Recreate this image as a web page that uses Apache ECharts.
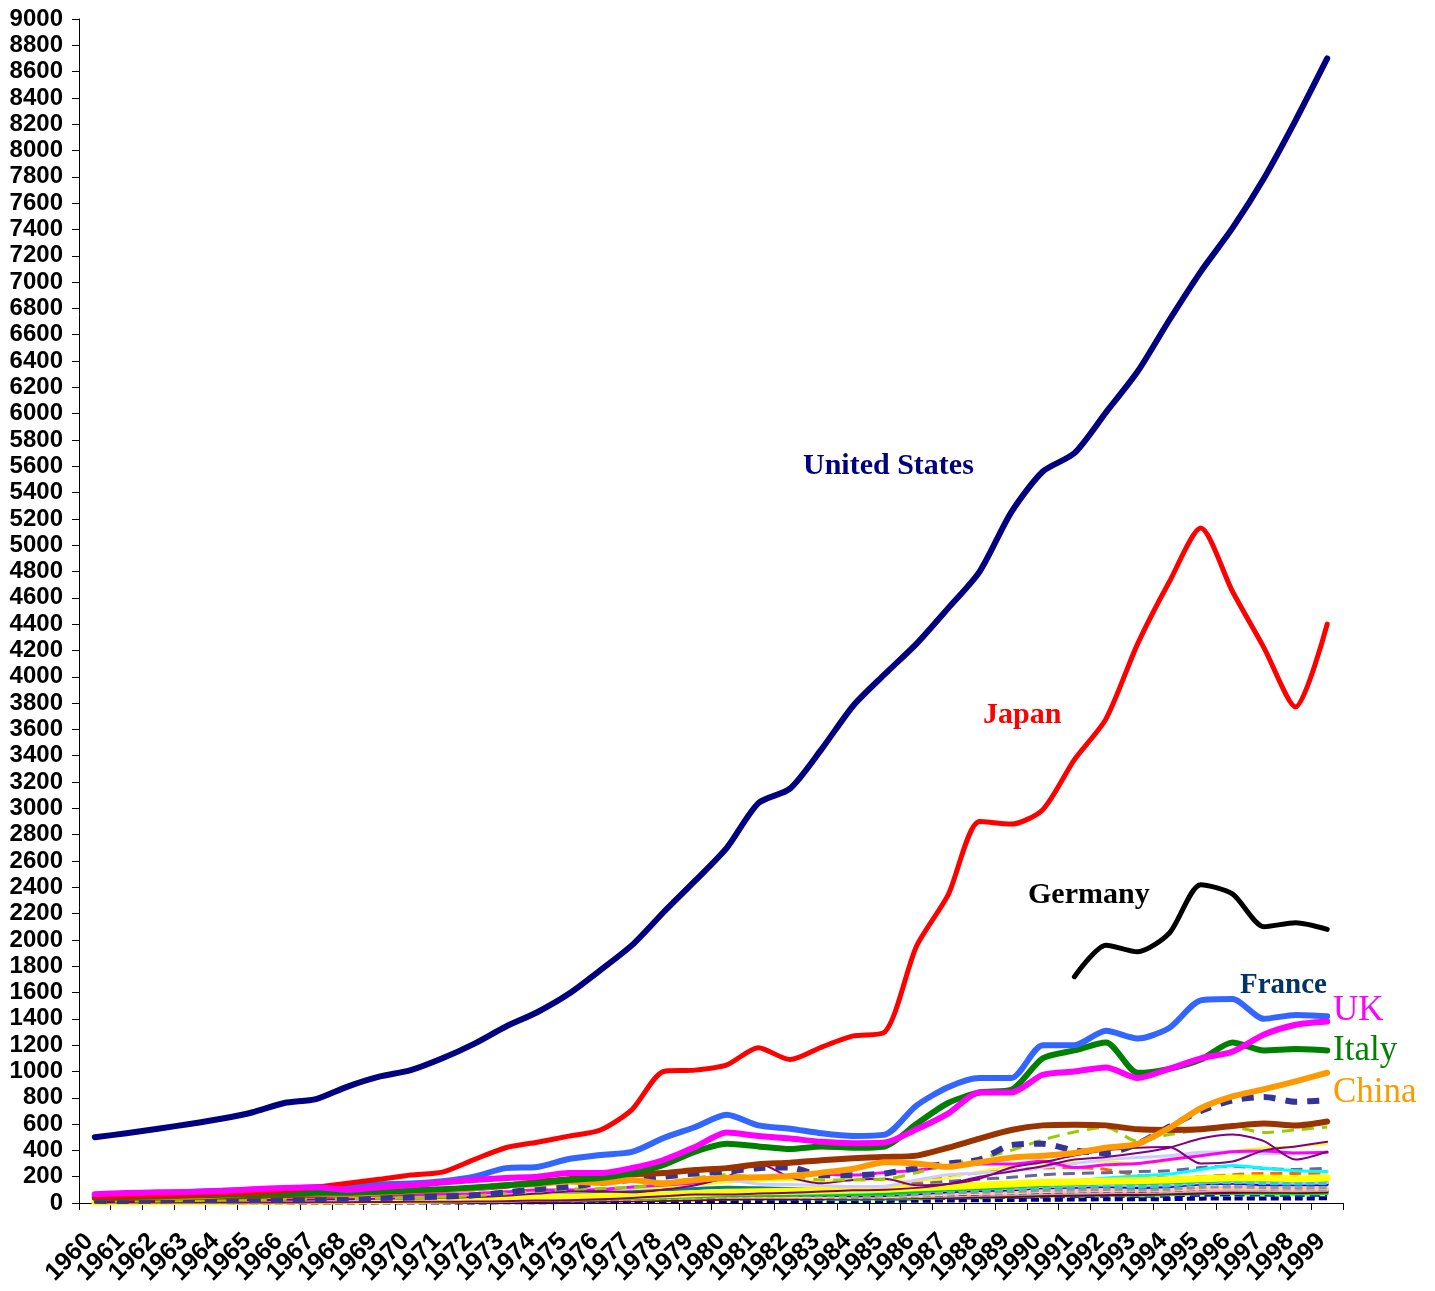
<!DOCTYPE html>
<html>
<head>
<meta charset="utf-8">
<script src="https://cdn.jsdelivr.net/npm/echarts@6/dist/echarts.min.js"></script>
<style>
html,body{margin:0;padding:0;background:#fff;}
#chart{width:1435px;height:1291px;}
</style>
</head>
<body>
<div id="chart"></div>
<script>
const years = ['1960','1961','1962','1963','1964','1965','1966','1967','1968','1969','1970','1971','1972','1973','1974','1975','1976','1977','1978','1979','1980','1981','1982','1983','1984','1985','1986','1987','1988','1989','1990','1991','1992','1993','1994','1995','1996','1997','1998','1999'];

const unitedStates = [500,530,565,600,640,690,760,790,885,960,1010,1100,1210,1340,1450,1590,1770,1960,2210,2450,2700,3040,3150,3450,3780,4020,4250,4520,4800,5250,5560,5700,6010,6320,6710,7080,7410,7790,8230,8700];
const japan = [45,50,55,62,72,80,95,120,150,180,213,235,330,420,462,508,555,710,1000,1010,1050,1180,1090,1185,1270,1300,1950,2340,2900,2880,2990,3370,3680,4250,4720,5130,4650,4220,3770,4400];
const germany = [null,null,null,null,null,null,null,null,null,null,null,null,null,null,null,null,null,null,null,null,null,null,null,null,null,null,null,null,null,null,null,1720,1960,1910,2050,2420,2350,2100,2130,2080];
const france = [62,67,75,84,94,101,110,119,130,141,148,165,200,265,274,334,365,388,494,578,670,590,565,530,510,520,740,880,950,950,1200,1200,1310,1250,1330,1540,1550,1400,1430,1420];
const uk = [66,76,81,84,91,104,114,120,99,120,135,155,175,190,200,228,228,266,327,426,535,510,490,465,455,460,560,680,840,840,975,1000,1030,950,1020,1100,1150,1280,1355,1380];
const italy = [40,45,50,57,62,67,72,78,78,85,95,105,118,135,150,175,190,228,290,390,450,430,410,430,420,430,600,760,840,860,1100,1160,1220,990,1020,1090,1220,1160,1170,1160];
const china = [60,50,47,50,59,70,76,72,70,79,92,100,112,136,142,163,153,175,150,175,190,195,205,230,260,310,300,275,310,345,360,380,420,450,570,720,810,865,925,990];
const canada = [41,41,42,45,49,54,60,64,70,77,88,99,113,131,160,180,215,220,228,250,265,295,306,325,340,350,360,420,490,555,590,595,590,560,555,560,585,605,590,620];
const brazil = [17,15,19,23,21,22,27,30,33,37,42,49,58,80,105,123,152,176,200,225,240,265,270,210,210,225,265,300,330,440,450,400,380,450,580,700,780,805,770,780];
const spain = [12,14,16,19,22,25,29,32,33,37,40,45,55,70,90,105,110,120,145,190,215,200,200,175,175,180,230,290,340,400,480,540,575,470,520,555,578,535,555,578];
const mexico = [13,14,15,17,20,22,24,27,29,32,35,39,45,55,72,88,89,82,102,135,200,300,195,150,175,185,135,145,185,270,310,360,400,420,425,300,315,400,430,465];
const korea = [4,3,3,4,3,3,4,5,6,8,9,10,11,14,19,21,29,38,52,65,64,72,78,87,96,100,115,145,200,240,280,330,350,380,420,490,520,470,330,390];
const india = [37,39,42,48,56,59,45,50,53,58,62,67,71,85,99,98,102,121,137,152,186,193,201,218,212,232,248,279,296,296,317,270,290,300,330,360,390,395,380,385];
const netherlands = [12,13,14,15,17,19,21,23,25,29,35,40,48,62,74,86,98,113,138,160,172,145,140,133,125,128,175,215,228,245,270,300,330,345,360,385,390,375,380,385];
const yellowThin = [19,21,22,23,26,28,29,31,34,37,40,48,55,70,88,95,100,105,115,135,155,170,175,170,180,175,170,190,240,280,300,310,315,300,320,365,395,420,430,450];
const yellowThick = [8,9,10,11,12,13,14,15,16,18,20,23,26,30,38,45,50,55,62,70,80,85,90,95,100,105,115,125,135,145,155,160,165,170,175,185,190,190,185,190];
const cyanLine = [6,6,7,8,9,10,11,12,13,14,16,18,21,26,32,37,41,45,52,62,70,72,74,76,80,90,110,125,135,140,160,170,190,205,220,255,285,265,245,240];
const slateDash = [10,11,12,13,14,15,16,17,18,20,22,25,29,35,42,48,52,57,65,75,85,88,90,92,95,110,140,165,180,195,215,225,230,240,245,270,280,262,255,265];
const orangeDash = [9,10,11,12,13,14,15,16,17,18,20,23,27,33,40,46,50,55,63,74,85,90,92,95,100,120,160,200,230,250,265,270,255,210,190,200,215,225,225,230];
const greenMid = [5,5,6,6,7,8,8,9,10,11,12,14,16,19,23,27,30,34,40,47,55,58,60,62,65,70,85,100,110,120,135,140,150,150,155,165,172,172,170,172];
const low1 = [20,21,23,25,27,29,31,33,35,38,42,46,52,62,70,78,82,90,100,110,120,115,110,105,102,108,125,140,148,150,155,160,165,160,165,180,185,178,172,178];
const low2 = [8,9,10,11,12,13,14,15,16,17,19,21,24,28,33,37,40,44,50,58,65,62,60,58,55,57,70,85,95,100,115,120,125,118,125,145,150,140,138,140];
const low3 = [10,11,12,12,13,14,15,16,17,18,20,22,26,32,38,42,45,48,55,63,72,70,68,66,64,66,78,92,100,104,118,122,128,122,130,150,156,148,144,150];
const low4 = [5,5,6,6,7,8,8,9,10,11,12,13,15,18,22,25,27,30,35,40,45,46,45,44,43,45,52,60,66,70,78,82,86,84,88,98,102,100,98,100];
const low5 = [14,15,16,17,18,19,20,21,22,24,26,28,32,38,45,50,53,58,66,75,82,78,75,72,70,72,85,100,110,115,130,135,140,136,142,160,165,158,154,158];
const low6 = [6,6,7,7,8,9,9,10,11,12,13,15,17,21,26,29,32,35,40,46,52,55,53,50,48,50,58,66,72,78,85,90,95,92,98,110,118,112,108,112];
const low7 = [3,3,4,4,5,5,6,6,7,8,9,10,12,15,19,22,25,28,32,37,42,44,43,42,41,43,47,52,58,63,70,74,78,80,84,92,96,94,92,96];
const low8 = [9,10,10,11,12,13,14,14,15,16,18,20,23,28,33,37,40,44,50,57,63,60,58,55,53,55,65,76,82,86,95,98,102,98,104,118,122,116,112,116];
const low9 = [4,4,5,5,6,6,7,7,8,9,10,11,13,16,20,23,26,29,34,40,46,48,47,46,45,47,50,55,60,66,72,76,80,82,86,94,98,97,95,98];
const low10 = [7,7,8,8,9,10,11,12,12,13,15,17,19,23,28,31,34,37,42,48,55,56,54,52,50,52,60,70,76,80,90,94,98,96,100,112,116,112,108,112];
const low11 = [2,2,2,3,3,3,4,4,4,5,5,6,7,9,12,14,16,18,21,25,30,33,34,35,36,37,39,42,46,50,55,58,62,65,70,76,80,82,80,84];
const low12 = [3,3,3,4,4,4,5,5,5,6,7,8,9,11,14,16,18,20,23,27,31,33,32,31,30,31,35,40,44,48,53,56,60,58,62,70,72,70,68,70];
const low13 = [5,5,5,6,6,6,7,7,8,8,9,10,11,13,16,18,20,22,25,29,33,34,33,32,31,32,35,39,43,46,50,52,55,54,57,63,66,64,62,64];
const low14 = [11,12,12,13,14,15,16,17,18,19,21,23,27,33,39,44,47,51,58,67,75,73,70,68,66,68,80,95,104,110,122,128,134,128,136,155,162,154,150,155];
const low15 = [1,1,1,1,2,2,2,2,2,3,3,3,4,5,6,7,8,9,10,12,14,15,15,15,15,16,17,19,21,23,25,26,28,28,30,33,35,35,34,36];

function line(name, data, color, width, dash) {
  return {
    name: name, type: 'line', data: data, smooth: 0.25, symbol: 'none',
    connectNulls: false, silent: true,
    lineStyle: { color: color, width: width, type: dash || 'solid', cap: dash ? 'butt' : 'round', join: 'round' }
  };
}

const series = [
  line('l15', low15, '#000080', 4, [8,4]),
  line('l13', low13, '#0000FF', 4, [10,5]),
  line('l12', low12, '#00FF00', 3),
  line('l11', low11, '#800000', 3),
  line('l7', low7, '#339966', 3),
  line('l9', low9, '#CC99FF', 3),
  line('l4', low4, '#FF99CC', 3),
  line('l6', low6, '#003366', 4, [8,4]),
  line('l10', low10, '#FFCC99', 4),
  line('l2', low2, '#0000FF', 3),
  line('l8', low8, '#969696', 3, [8,4]),
  line('l3', low3, '#00CCFF', 3, [8,4]),
  line('l5', low5, '#99CCFF', 4),
  line('l14', low14, '#33CCCC', 4, [8,4]),
  line('l1', low1, '#008080', 3),
  line('greenMid', greenMid, '#00CC00', 3),
  line('orangeDash', orangeDash, '#FF6600', 3, [12,7]),
  line('slateDash', slateDash, '#666699', 3, [12,7]),
  line('cyan', cyanLine, '#00FFFF', 3),
  line('yellowThick', yellowThick, '#FFFF00', 7),
  line('yellowThin', yellowThin, '#FFFF00', 2),
  line('Netherlands', netherlands, '#CCCCFF', 3),
  line('India', india, '#FF00FF', 3),
  line('Korea', korea, '#800080', 2),
  line('Mexico', mexico, '#800080', 2),
  line('Spain', spain, '#99CC00', 3, [12,8]),
  line('Brazil', brazil, '#333399', 6, [12,10]),
  line('Canada', canada, '#993300', 6),
  line('China', china, '#FF9900', 6),
  line('Germany', germany, '#000000', 5),
  line('Italy', italy, '#008000', 6),
  line('France', france, '#3366FF', 6),
  line('Japan', japan, '#FF0000', 5),
  line('UK', uk, '#FF00FF', 6),
  line('United States', unitedStates, '#000080', 6)
];

const chart = echarts.init(document.getElementById('chart'), null, { renderer: 'canvas' });
chart.setOption({
  animation: false,
  backgroundColor: '#ffffff',
  grid: { left: 79, right: 92, top: 19, bottom: 88, containLabel: false },
  xAxis: {
    type: 'category', data: years, boundaryGap: true,
    axisLine: { lineStyle: { color: '#000', width: 1 } },
    axisTick: { show: true, inside: false, length: 7, alignWithLabel: false, lineStyle: { color: '#000' } },
    axisLabel: { interval: 0, rotate: 45, margin: 29, padding: [0, 8, 0, 0], color: '#000', fontFamily: 'Liberation Sans, Arial, sans-serif', fontWeight: 'bold', fontSize: 25 },
    splitLine: { show: false }
  },
  yAxis: {
    type: 'value', min: 0, max: 9000, interval: 200,
    axisLine: { show: true, lineStyle: { color: '#000', width: 1 } },
    axisTick: { show: true, inside: false, length: 7, lineStyle: { color: '#000' } },
    axisLabel: { margin: 16, color: '#000', fontFamily: 'Liberation Sans, Arial, sans-serif', fontWeight: 'bold', fontSize: 24, formatter: function (v) { return String(v); } },
    splitLine: { show: false }
  },
  series: series,
  graphic: [
    { type: 'text', left: 803, top: 451, style: { text: 'United States', fill: '#000080', font: 'bold 30px "Liberation Serif", "Times New Roman", serif' } },
    { type: 'text', left: 983, top: 700, style: { text: 'Japan', fill: '#FF0000', font: 'bold 30px "Liberation Serif", "Times New Roman", serif' } },
    { type: 'text', left: 1028, top: 880, style: { text: 'Germany', fill: '#000000', font: 'bold 30px "Liberation Serif", "Times New Roman", serif' } },
    { type: 'text', left: 1240, top: 971, style: { text: 'France', fill: '#003366', font: 'bold 29px "Liberation Serif", "Times New Roman", serif' } },
    { type: 'text', left: 1333, top: 993, style: { text: 'UK', fill: '#FF00FF', font: '35px "Liberation Serif", "Times New Roman", serif' } },
    { type: 'text', left: 1333, top: 1033, style: { text: 'Italy', fill: '#008000', font: '35px "Liberation Serif", "Times New Roman", serif' } },
    { type: 'text', left: 1333, top: 1075, style: { text: 'China', fill: '#FF9900', font: '35px "Liberation Serif", "Times New Roman", serif' } }
  ]
});
</script>
</body>
</html>
